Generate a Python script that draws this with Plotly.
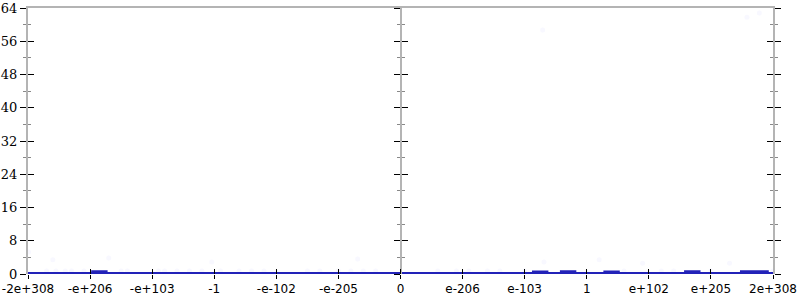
import plotly.graph_objects as go

# ---- data ----
tick_positions = [-6, -5, -4, -3, -2, -1, 0, 1, 2, 3, 4, 5, 6]
tick_labels = ["-2e+308", "-e+206", "-e+103", "-1", "-e-102", "-e-205", "0",
               "e-206", "e-103", "1", "e+102", "e+205", "2e+308"]

# histogram: bin start positions (width 0.1) with non-zero counts
bin_width = 0.1
bump_starts = [-4.95, -4.85, 2.15, 2.25, 2.6, 2.7, 3.3, 3.4, 4.6, 4.7, 5.5, 5.6, 5.7, 5.8]
bump_heights = [0.4, 0.4, 0.35, 0.35, 0.45, 0.45, 0.35, 0.35, 0.4, 0.4, 0.4, 0.4, 0.4, 0.4]

# faint sample points
pts_x = [-5.99, -5.6, -4.7, -3.04, -0.69, 2.29, 2.31, 3.2, 3.9, 5.3, 5.58, 5.78,
         -5.7, -5.55, -5.4, -5.3, -5.1, -4.5, -4.4, -3.9, -3.8, -3.6, -3.4, -3.2,
         -2.9, -2.6, -2.4, -2.2, -1.5, -1.3, -1.0, -0.8, -0.6, -0.4, 0.6, 0.9,
         1.1, 1.4, 1.6, 2.0, 3.6, 4.2, 4.4, 5.0, 6.0]
pts_y = [5.3, 3.4, 3.85, 2.9, 3.6, 58.7, 2.9, 3.4, 2.6, 2.6, 61.8, 62.8,
         0.7, 0.7, 0.7, 0.7, 0.7, 0.7, 0.7, 0.7, 0.7, 0.7, 0.7, 0.7,
         0.7, 0.7, 0.7, 0.7, 0.7, 0.7, 0.7, 0.7, 0.7, 0.7, 0.7, 0.7,
         0.7, 0.7, 0.7, 0.7, 0.7, 0.7, 0.7, 0.7, 0.7]

# build step curve from bins
hx, hy = [-6.0], [0.0]
for s, h in zip(bump_starts, bump_heights):
    hx += [s, s, s + bin_width, s + bin_width]
    hy += [0.0, h, h, 0.0]
hx.append(6.0)
hy.append(0.0)

fig = go.Figure()
fig.add_trace(go.Scatter(x=pts_x, y=pts_y, mode="markers",
                         marker=dict(size=5, color="rgba(60,60,255,0.035)"),
                         showlegend=False, hoverinfo="skip"))
fig.add_trace(go.Scatter(x=hx, y=hy, mode="lines", line=dict(color="#2222b8", width=4),
                         fill="tozeroy", fillcolor="rgba(40,40,230,0.6)",
                         showlegend=False))
# empty traces to create overlay axes
for ya in ["y2", "y3", "y4", "y5", "y6"]:
    fig.add_trace(go.Scatter(x=[None], y=[None], xaxis="x", yaxis=ya, showlegend=False))
fig.add_trace(go.Scatter(x=[None], y=[None], xaxis="x2", yaxis="y", showlegend=False))
fig.add_trace(go.Scatter(x=[None], y=[None], xaxis="x3", yaxis="y", showlegend=False))

grey = "#b4b4b4"
common_y = dict(range=[0, 64], tickvals=[0, 8, 16, 24, 32, 40, 48, 56, 64],
                showgrid=False, zeroline=False, ticklen=6, tickwidth=1.2,
                tickcolor="black", fixedrange=True, automargin=False,
                showline=True, linecolor=grey, linewidth=2,
                minor=dict(tickvals=[4, 12, 20, 28, 36, 44, 52, 60], ticklen=3,
                           tickcolor="#888888", tickwidth=1, showgrid=False))

def ymk(ticks, **kw):
    d = dict(common_y)
    d["ticks"] = ticks
    d["minor"] = dict(common_y["minor"], ticks=ticks)
    d.update(kw)
    return d

fig.update_layout(
    width=800, height=300,
    margin=dict(l=28, r=27, t=8, b=26, autoexpand=False),
    paper_bgcolor="white", plot_bgcolor="white",
    xaxis=dict(range=[-6, 6], tickvals=tick_positions, ticktext=tick_labels,
               ticks="outside", ticklen=4, tickwidth=1.2, tickcolor="black",
               showline=False, showgrid=False, zeroline=False, automargin=False,
               tickfont=dict(family="DejaVu Sans", size=12, color="black")),
    xaxis2=dict(range=[-6, 6], overlaying="x", anchor="y", side="bottom",
                tickvals=tick_positions, ticks="inside", ticklen=5, tickwidth=1.2,
                tickcolor="black", showticklabels=False, showline=False,
                showgrid=False, zeroline=False, automargin=False),
    xaxis3=dict(range=[-6, 6], overlaying="x", anchor="y", side="top",
                showticklabels=False, ticks="", showline=True, linecolor=grey,
                linewidth=2, showgrid=False, zeroline=False, automargin=False),
    yaxis=ymk("outside", tickfont=dict(family="DejaVu Serif", size=13, color="black")),
    yaxis2=ymk("inside", overlaying="y", anchor="x", side="left", showticklabels=False),
    yaxis3=ymk("outside", overlaying="y", anchor="free", position=0.5, side="left",
               showticklabels=False),
    yaxis4=ymk("inside", overlaying="y", anchor="free", position=0.5, side="left",
               showticklabels=False),
    yaxis5=ymk("outside", overlaying="y", anchor="x", side="right", showticklabels=False),
    yaxis6=ymk("inside", overlaying="y", anchor="x", side="right", showticklabels=False),
)

fig.write_html("out.html")
